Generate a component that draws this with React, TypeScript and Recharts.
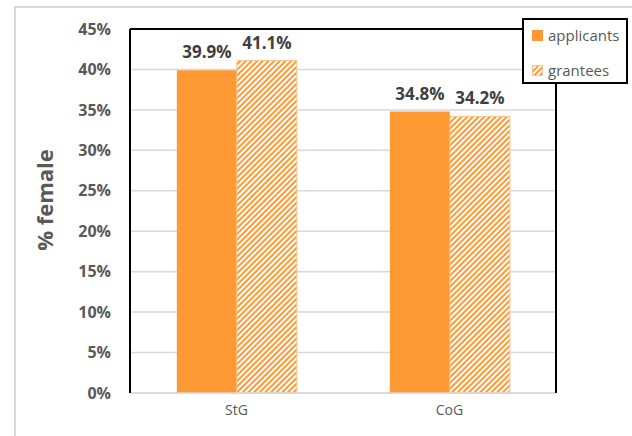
import {
  Bar,
  BarChart,
  CartesianGrid,
  LabelList,
  Legend,
  XAxis,
  YAxis,
} from "recharts";

const categories = ["StG", "CoG"];
const applicants = [39.9, 34.8];
const grantees = [41.1, 34.2];
const yTicks = [0, 5, 10, 15, 20, 25, 30, 35, 40, 45];

const ORANGE = "#FF9933";
const GREY_TEXT = "#595959";
const FONT = "'Open Sans', 'Noto Sans', sans-serif";

const data = categories.map((c, i) => ({
  name: c,
  applicants: applicants[i],
  grantees: grantees[i],
}));

const legendItems = [
  { key: "applicants", fill: ORANGE, stroke: ORANGE },
  { key: "grantees", fill: "url(#hatch)", stroke: "#FBC28C" },
];

const LegendBox = () => (
  <div
    style={{
      width: 106,
      height: 66,
      border: "2px solid #000",
      background: "#fff",
      fontFamily: FONT,
      fontSize: 15,
      color: GREY_TEXT,
      boxSizing: "border-box",
    }}
  >
    {legendItems.map((it, i) => (
      <div
        key={it.key}
        style={{
          display: "flex",
          alignItems: "center",
          height: 20,
          marginTop: i === 0 ? 5 : 15,
          paddingLeft: 8,
        }}
      >
        <svg width={11} height={11} style={{ marginRight: 5 }}>
          <rect x={0.5} y={0.5} width={10} height={10} fill={it.fill} stroke={it.stroke} />
        </svg>
        <span>{it.key}</span>
      </div>
    ))}
  </div>
);

const pct = (v: number) => `${v.toFixed(1)}%`;

const App = () => (
  <div
    style={{
      position: "absolute",
      left: 0,
      top: 0,
      width: 632,
      height: 436,
      overflow: "hidden",
      background: "#fff",
    }}
  >
    <div
      style={{
        position: "absolute",
        left: 14,
        top: 6,
        width: 700,
        height: 500,
        border: "2px solid #D9D9D9",
      }}
    />
    <BarChart
      width={632}
      height={436}
      data={data}
      margin={{ top: 28, right: 75, left: 0, bottom: 12 }}
      barCategoryGap="22%"
      barGap={0}
      style={{ position: "absolute", left: 0, top: 0 }}
    >
      <defs>
        <pattern
          id="hatch"
          width={4}
          height={4}
          patternUnits="userSpaceOnUse"
          patternTransform="rotate(45)"
        >
          <rect width={4} height={4} fill="#fff" />
          <rect width={2} height={4} fill={ORANGE} />
        </pattern>
      </defs>
      <CartesianGrid xAxisId="cat" vertical={false} stroke="#D9D9D9" strokeWidth={1.5} />
      <XAxis
        xAxisId="edge"
        type="number"
        domain={[0, 2]}
        ticks={[0, 1, 2]}
        tick={false}
        axisLine={false}
        tickSize={5}
        height={1}
        tickLine={{ stroke: "#D9D9D9", strokeWidth: 1.5 }}
      />
      <XAxis
        xAxisId="cat"
        dataKey="name"
        height={30}
        axisLine={{ stroke: "#D9D9D9", strokeWidth: 1.5 }}
        tickLine={false}
        tickSize={6}
        tickMargin={6}
        tick={{ fill: GREY_TEXT, fontSize: 14, fontFamily: FONT }}
      />
      <XAxis
        xAxisId="top"
        orientation="top"
        type="number"
        domain={[0, 1]}
        height={1}
        tick={false}
        tickLine={false}
        axisLine={{ stroke: "#000", strokeWidth: 2 }}
      />
      <YAxis
        width={130}
        domain={[0, 45]}
        ticks={yTicks}
        interval={0}
        tickFormatter={(v: number) => `${v}%`}
        axisLine={{ stroke: "#000", strokeWidth: 2 }}
        tickLine={false}
        tickSize={0}
        tickMargin={19}
        tick={{ fill: GREY_TEXT, fontSize: 16, fontWeight: 700, fontFamily: FONT }}
        label={{
          content: () => (
            <text
              x={44}
              y={200}
              transform="rotate(-90 44 200)"
              textAnchor="middle"
              dominantBaseline="central"
              fill={GREY_TEXT}
              fontSize={22}
              fontWeight={700}
              fontFamily={FONT}
            >
              % female
            </text>
          ),
        }}
      />
      <YAxis
        yAxisId="right"
        orientation="right"
        width={1}
        domain={[0, 45]}
        tick={false}
        tickLine={false}
        axisLine={{ stroke: "#000", strokeWidth: 2 }}
      />
      <Legend
        layout="horizontal"
        verticalAlign="middle"
        align="center"
        content={() => <LegendBox />}
        wrapperStyle={{ left: 522, top: 18, width: 106, height: 66 }}
      />
      <Bar xAxisId="cat" dataKey="applicants" fill={ORANGE} isAnimationActive={false}>
        <LabelList
          dataKey="applicants"
          position="top"
          offset={12}
          formatter={(v: number) => pct(v)}
          fill="#404040"
          fontSize={17}
          fontWeight={700}
          fontFamily={FONT}
        />
      </Bar>
      <Bar
        xAxisId="cat"
        dataKey="grantees"
        fill="url(#hatch)"
        stroke="#FBC28C"
        strokeWidth={1}
        isAnimationActive={false}
      >
        <LabelList
          dataKey="grantees"
          position="top"
          offset={12}
          formatter={(v: number) => pct(v)}
          fill="#404040"
          fontSize={17}
          fontWeight={700}
          fontFamily={FONT}
        />
      </Bar>
    </BarChart>
  </div>
);

export default App;
